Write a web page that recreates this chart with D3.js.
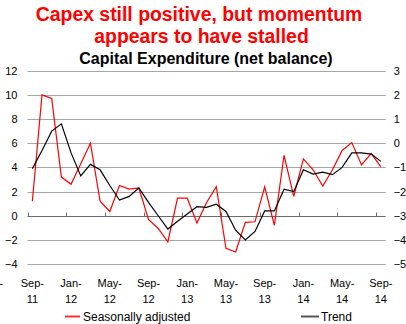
<!DOCTYPE html>
<html>
<head>
<meta charset="utf-8">
<script src="https://cdn.jsdelivr.net/npm/d3@7/dist/d3.min.js"></script>
<style>
  html, body { margin: 0; padding: 0; background: #fff; }
  svg { display: block; font-family: "Liberation Sans", Arial, sans-serif; }
</style>
</head>
<body>
<svg id="chart" width="406" height="324"></svg>
<script>
// ---- data ----
const months = ["Sep-11","Oct-11","Nov-11","Dec-11","Jan-12","Feb-12","Mar-12","Apr-12","May-12","Jun-12","Jul-12","Aug-12",
  "Sep-12","Oct-12","Nov-12","Dec-12","Jan-13","Feb-13","Mar-13","Apr-13","May-13","Jun-13","Jul-13","Aug-13",
  "Sep-13","Oct-13","Nov-13","Dec-13","Jan-14","Feb-14","Mar-14","Apr-14","May-14","Jun-14","Jul-14","Aug-14","Sep-14"];
const seasonallyAdjusted = [1.2,10.0,9.7,3.2,2.6,4.3,6.0,1.2,0.35,2.5,2.2,2.3,
  -0.3,-1.05,-2.15,1.45,1.45,-0.6,1.1,2.4,-2.7,-3.0,-0.55,-0.5,
  2.4,-0.8,5.0,1.6,4.7,3.8,2.45,3.8,5.4,6.05,4.2,5.15,4.05];
const trend = [3.9,5.4,7.0,7.6,5.2,3.3,4.25,3.8,2.5,1.3,1.6,2.3,
  1.1,0.0,-1.1,-0.45,0.15,0.75,0.7,0.95,0.35,-1.2,-2.0,-1.3,
  0.4,0.4,2.2,2.0,3.8,3.45,3.6,3.4,4.0,5.2,5.2,5.1,4.5];
const leftTicks = [-4,-2,0,2,4,6,8,10,12];
const rightTicks = [-5,-4,-3,-2,-1,0,1,2,3];
const xTickLabels = ["Sep-11","Jan-12","May-12","Sep-12","Jan-13","May-13","Sep-13","Jan-14","May-14","Sep-14"];
const titleLines = ["Capex still positive, but momentum", "appears to have stalled"];
const subtitle = "Capital Expenditure (net balance)";
const seriesNames = ["Seasonally adjusted", "Trend"];

// ---- layout ----
const svg = d3.select("#chart");
const plot = {left: 27.5, right: 385.7, top: 70.7, bottom: 264.1};

const x = d3.scaleBand().domain(months).range([plot.left, plot.right]).padding(0);
const yL = d3.scaleLinear().domain([-4, 12]).range([plot.bottom, plot.top]);
const yR = d3.scaleLinear().domain([-5, 3]).range([plot.bottom, plot.top]);
const cx = d => x(d) + x.bandwidth() / 2;

// titles
svg.append("text").attr("x", 199).attr("y", 21).attr("text-anchor", "middle")
  .attr("fill", "#ff0000").attr("font-size", 19.4).attr("font-weight", "bold").text(titleLines[0]);
svg.append("text").attr("x", 201.5).attr("y", 42.5).attr("text-anchor", "middle")
  .attr("fill", "#ff0000").attr("font-size", 19.4).attr("font-weight", "bold").text(titleLines[1]);
svg.append("text").attr("x", 206).attr("y", 64).attr("text-anchor", "middle")
  .attr("fill", "#000").attr("font-size", 16).attr("font-weight", "bold").text(subtitle);

// gridlines
svg.append("g").selectAll("line").data(leftTicks.filter(t => t !== 0)).join("line")
  .attr("x1", plot.left).attr("x2", plot.right)
  .attr("y1", d => Math.round(yL(d)) + 0.5).attr("y2", d => Math.round(yL(d)) + 0.5)
  .attr("stroke", "#a6a6a6").attr("stroke-width", 1);

// left axis
const leftAxis = d3.axisLeft(yL).tickValues(leftTicks).tickSize(0).tickPadding(10);
const gL = svg.append("g").attr("transform", `translate(${plot.left},0)`).call(leftAxis);
gL.select(".domain").remove();
gL.selectAll("text").attr("font-size", 11).attr("fill", "#000").attr("font-family", "Liberation Sans, Arial, sans-serif");

// right axis
const rightAxis = d3.axisRight(yR).tickValues(rightTicks).tickSize(0).tickPadding(8);
const gR = svg.append("g").attr("transform", `translate(${plot.right},0)`).call(rightAxis);
gR.select(".domain").remove();
gR.selectAll("text").attr("font-size", 11).attr("fill", "#000").attr("font-family", "Liberation Sans, Arial, sans-serif");

// zero axis line with category ticks
const zeroY = Math.round(yL(0)) + 0.5;
svg.append("line").attr("x1", plot.left).attr("x2", plot.right).attr("y1", zeroY).attr("y2", zeroY)
  .attr("stroke", "#6b6b6b").attr("stroke-width", 1.2);
const tickMonths = months.filter((m, i) => i % 4 === 0);
svg.append("g").selectAll("line").data(tickMonths).join("line")
  .attr("x1", d => Math.round(x(d)) + 0.5).attr("x2", d => Math.round(x(d)) + 0.5)
  .attr("y1", zeroY).attr("y2", zeroY - 4)
  .attr("stroke", "#6b6b6b").attr("stroke-width", 1);

// x labels
const xl = svg.append("g").attr("font-size", 11).attr("fill", "#000");
xTickLabels.forEach(lbl => {
  const parts = lbl.split("-");
  const t = xl.append("text").attr("text-anchor", "middle").attr("x", cx(lbl));
  t.append("tspan").attr("x", cx(lbl)).attr("y", 287).text(parts[0] + "-");
  t.append("tspan").attr("x", cx(lbl)).attr("y", 302.5).text(parts[1]);
});
// partially visible label at left edge
xl.append("text").attr("x", 3).attr("y", 287).attr("text-anchor", "end").text("-");

// lines
const lineL = d3.line().x((d, i) => cx(months[i])).y(d => yL(d));
svg.append("path").datum(seasonallyAdjusted).attr("d", lineL)
  .attr("fill", "none").attr("stroke", "#ff0000").attr("stroke-width", 1.2).attr("stroke-linejoin", "miter");
svg.append("path").datum(trend).attr("d", lineL)
  .attr("fill", "none").attr("stroke", "#000").attr("stroke-width", 1.2);

// legend
const lg = svg.append("g").attr("font-size", 12).attr("fill", "#000");
lg.append("line").attr("x1", 65).attr("x2", 80).attr("y1", 316.5).attr("y2", 316.5)
  .attr("stroke", "#ff3030").attr("stroke-width", 2);
lg.append("text").attr("x", 83).attr("y", 320.5).text(seriesNames[0]);
lg.append("line").attr("x1", 301).attr("x2", 319).attr("y1", 316.5).attr("y2", 316.5)
  .attr("stroke", "#555").attr("stroke-width", 2);
lg.append("text").attr("x", 321).attr("y", 320.5).text(seriesNames[1]);
</script>
</body>
</html>
